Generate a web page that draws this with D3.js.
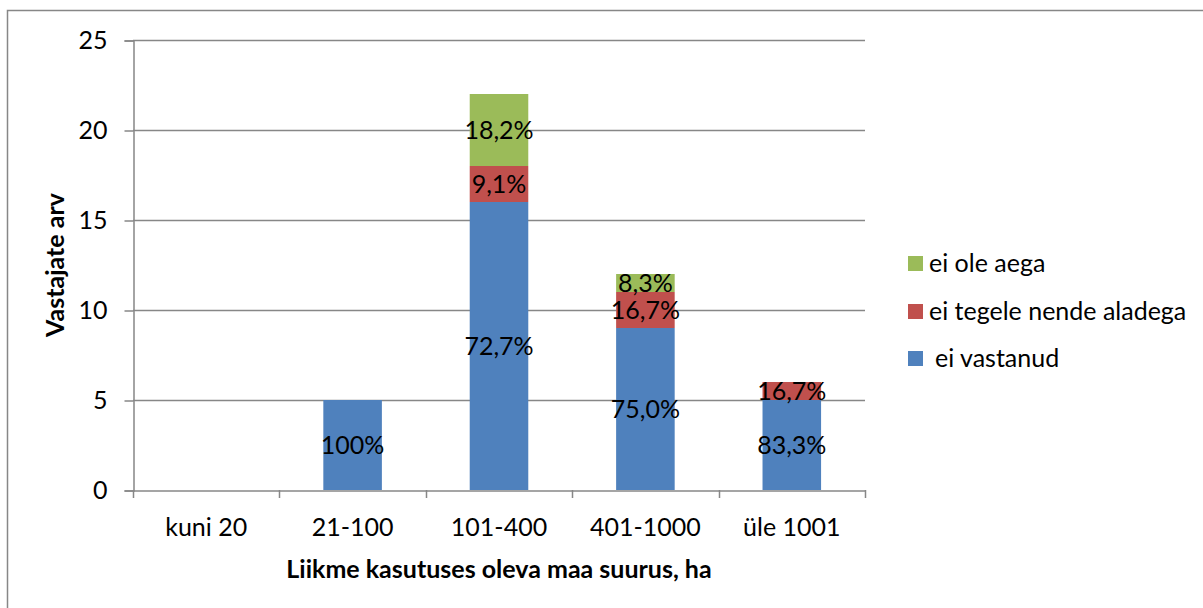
<!DOCTYPE html>
<html lang="et">
  <head>
    <meta charset="utf-8">
    <script type="text/javascript" src="https://d3js.org/d3.v7.min.js"></script>
    <style type="text/css">
      body { margin: 0; background: #fff; }
      svg text { font-family: Lato, "Open Sans", sans-serif; fill: #000; }
    </style>
  </head>
  <body>
    <script type="text/javascript">
      // chart data
      var categories = ["kuni 20", "21-100", "101-400", "401-1000", "üle 1001"];
      var eiVastanud = [0, 5, 16, 9, 5];
      var eiTegele = [0, 0, 2, 2, 1];
      var eiOleAega = [0, 0, 4, 1, 0];
      var vastanudLabels = ["", "100%", "72,7%", "75,0%", "83,3%"];
      var tegeleLabels = ["", "", "9,1%", "16,7%", "16,7%"];
      var aegLabels = ["", "", "18,2%", "8,3%", ""];
      var yTicks = [0, 5, 10, 15, 20, 25];

      var seriesNames = ["ei vastanud", "ei tegele nende aladega", "ei ole aega"];
      var seriesColors = ["#4f81bd", "#c0504d", "#9bbb59"];

      var w = 1203;
      var h = 608;
      // plot area edges (note: "top" is reserved on window, so prefix them)
      var plotLeft = 133, plotRight = 865, plotTop = 40, plotBottom = 490;
      var fontSize = 25;
      var grey = "#878787";

      var svg = d3.select("body").append("svg")
                  .attr("width", w)
                  .attr("height", h);

      // outer frame (runs off the right and bottom edge)
      svg.append("rect")
         .attr("x", 7.5).attr("y", 10.5)
         .attr("width", 1200).attr("height", 620)
         .attr("fill", "none")
         .attr("stroke", grey)
         .attr("stroke-width", 1.5);

      // scales
      var xScale = d3.scaleBand()
                     .domain(categories)
                     .range([plotLeft, plotRight])
                     .paddingInner(0.6)
                     .paddingOuter(0.3);

      var yScale = d3.scaleLinear()
                     .domain([0, 25])
                     .range([plotBottom, plotTop]);

      // gridlines
      svg.append("g")
         .selectAll("line")
         .data(yTicks.slice(1))
         .join("line")
         .attr("x1", plotLeft).attr("x2", plotRight)
         .attr("y1", d => Math.round(yScale(d)) + 0.5)
         .attr("y2", d => Math.round(yScale(d)) + 0.5)
         .attr("stroke", grey)
         .attr("stroke-width", 1.5);

      // y axis
      var yAxis = svg.append("g")
                     .attr("transform", "translate(" + (plotLeft + 0.5) + ",0.5)")
                     .call(d3.axisLeft(yScale).tickValues(yTicks).tickSize(9).tickPadding(17));
      yAxis.select(".domain").attr("stroke", grey).attr("stroke-width", 1.5);
      yAxis.selectAll(".tick line").attr("stroke", grey).attr("stroke-width", 1.5);
      yAxis.selectAll(".tick text")
           .attr("font-size", fontSize)
           .attr("font-family", null);

      // stacked bars
      var stackData = categories.map(function(c, i) {
        return { cat: c, a: eiVastanud[i], b: eiTegele[i], c: eiOleAega[i] };
      });
      var stacked = d3.stack().keys(["a", "b", "c"])(stackData);
      var labelSets = [vastanudLabels, tegeleLabels, aegLabels];

      var layers = svg.append("g")
                      .selectAll("g")
                      .data(stacked)
                      .join("g")
                      .attr("fill", (d, i) => seriesColors[i]);

      layers.selectAll("rect")
            .data(d => d)
            .join("rect")
            .attr("x", d => xScale(d.data.cat))
            .attr("width", xScale.bandwidth())
            .attr("y", d => yScale(d[1]))
            .attr("height", d => yScale(d[0]) - yScale(d[1]));

      // value labels
      stacked.forEach(function(layer, k) {
        svg.append("g")
           .selectAll("text")
           .data(layer)
           .join("text")
           .attr("x", d => xScale(d.data.cat) + xScale.bandwidth() / 2)
           .attr("y", d => (yScale(d[0]) + yScale(d[1])) / 2)
           .attr("dy", "0.35em")
           .attr("text-anchor", "middle")
           .attr("font-size", fontSize)
           .text((d, i) => labelSets[k][i]);
      });

      // x axis
      var xAxis = svg.append("g")
                     .attr("transform", "translate(0," + (plotBottom + 0.5) + ")")
                     .call(d3.axisBottom(xScale).tickSize(0).tickPadding(28));
      xAxis.select(".domain").attr("stroke", grey).attr("stroke-width", 1.5);
      xAxis.selectAll(".tick text")
           .attr("font-size", fontSize)
           .attr("font-family", null);

      // tick marks sit on the band boundaries
      var edges = categories.map(c => xScale(c) - xScale.step() * xScale.paddingInner() / 2);
      edges.push(plotRight);
      edges[0] = plotLeft;
      svg.append("g")
         .selectAll("line")
         .data(edges)
         .join("line")
         .attr("x1", d => Math.round(d) + 0.5).attr("x2", d => Math.round(d) + 0.5)
         .attr("y1", plotBottom).attr("y2", plotBottom + 8)
         .attr("stroke", grey)
         .attr("stroke-width", 1.5);

      // axis titles
      svg.append("text")
         .attr("x", (plotLeft + plotRight) / 2)
         .attr("y", 578)
         .attr("text-anchor", "middle")
         .attr("font-size", fontSize)
         .attr("font-weight", "bold")
         .text("Liikme kasutuses oleva maa suurus, ha");

      svg.append("text")
         .attr("transform", "translate(64," + (plotTop + plotBottom) / 2 + ") rotate(-90)")
         .attr("text-anchor", "middle")
         .attr("font-size", fontSize)
         .attr("font-weight", "bold")
         .text("Vastajate arv");

      // legend (reversed order, top is last series)
      var legendY = [263, 311, 358];
      var legend = svg.append("g")
                      .selectAll("g")
                      .data([2, 1, 0])
                      .join("g")
                      .attr("transform", (d, i) => "translate(908," + legendY[i] + ")");
      legend.append("rect")
            .attr("x", 0).attr("y", -7)
            .attr("width", 15).attr("height", 15)
            .attr("fill", d => seriesColors[d]);
      legend.append("text")
            .attr("x", d => d === 0 ? 27 : 21)
            .attr("dy", "0.35em")
            .attr("font-size", fontSize)
            .text(d => seriesNames[d]);
    </script>
  </body>
</html>
